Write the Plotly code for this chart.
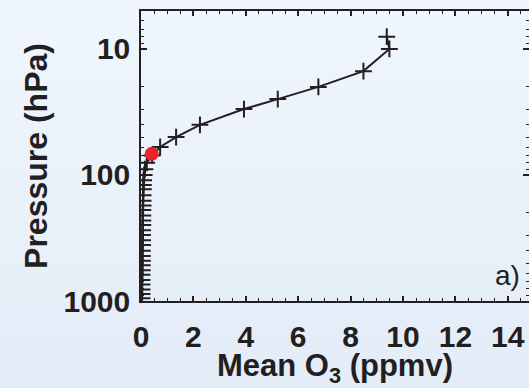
import base64
import plotly.graph_objects as go

# Data
pressure_hpa = [8, 10, 15, 20, 25, 30, 40, 50, 60, 70, 80, 90, 100, 110, 120, 130,
                145, 160, 175, 190, 210, 230, 250, 275, 300, 330, 360, 400, 440,
                480, 520, 570, 620, 680, 740, 810, 880, 950]
mean_o3_ppmv = [9.38, 9.48, 8.49, 6.77, 5.22, 3.93, 2.25, 1.34, 0.73, 0.42, 0.22, 0.15,
                0.12, 0.10, 0.09, 0.09, 0.08, 0.08, 0.08, 0.07, 0.07, 0.07, 0.07, 0.06,
                0.06, 0.06, 0.06, 0.05, 0.05, 0.05, 0.05, 0.05, 0.04, 0.04, 0.04, 0.04,
                0.04, 0.04]
tropopause_p = [68]
tropopause_o3 = [0.41]

x_ticks = [0, 2, 4, 6, 8, 10, 12, 14]
y_ticks = [10, 100, 1000]
y_tick_labels = ["10", "100", "1000"]
y_minor = [5, 6, 7, 8, 9, 20, 30, 40, 50, 60, 70, 80, 90,
           200, 300, 400, 500, 600, 700, 800, 900]

W, H = 529, 388
L, T, B, R = 141, 11, 87, 0
ink = "#231f20"
font_family = "Liberation Sans, Arial, Helvetica, sans-serif"

svg = ('<svg xmlns="http://www.w3.org/2000/svg" width="10" height="100" viewBox="0 0 10 100" '
       'preserveAspectRatio="none"><defs><linearGradient id="g" x1="0" y1="0" x2="0" y2="1">'
       '<stop offset="0" stop-color="#f0f6fd"/><stop offset="1" stop-color="#e3ecf7"/>'
       '</linearGradient></defs><rect width="10" height="100" fill="url(#g)"/></svg>')
bg_src = "data:image/svg+xml;base64," + base64.b64encode(svg.encode()).decode()

pw = W - L - R
ph = H - T - B

fig = go.Figure()
fig.add_trace(go.Scatter(
    x=mean_o3_ppmv, y=pressure_hpa, mode="lines+markers",
    line=dict(color=ink, width=2),
    marker=dict(symbol="cross-thin", size=12, line=dict(color=ink, width=2)),
    showlegend=False, hoverinfo="skip",
))
fig.add_trace(go.Scatter(
    x=tropopause_o3, y=tropopause_p, mode="markers",
    marker=dict(symbol="circle", size=14, color="#e8232a", line=dict(width=0)),
    showlegend=False, hoverinfo="skip",
))

fig.update_layout(
    width=W, height=H,
    margin=dict(l=L, r=R, t=T, b=B, pad=0, autoexpand=False),
    paper_bgcolor="#eaf1fa",
    plot_bgcolor="rgba(0,0,0,0)",
    font=dict(family=font_family, color=ink),
    images=[dict(source=bg_src, xref="paper", yref="paper",
                 x=-L / pw, y=1 + T / ph, sizex=W / pw, sizey=H / ph,
                 xanchor="left", yanchor="top", sizing="stretch", layer="below")],
    annotations=[dict(text="a)", xref="paper", yref="paper",
                      x=(522 - L) / pw, y=(H - B - 275) / ph,
                      xanchor="right", yanchor="middle", showarrow=False,
                      font=dict(size=28, color=ink, family=font_family))],
)

fig.update_xaxes(
    range=[0, (W - L) / 26.2],
    tickmode="array", tickvals=x_ticks,
    ticks="inside", ticklen=5, tickwidth=1.5, tickcolor=ink,
    minor=dict(dtick=0.5, ticks="inside", ticklen=3, tickwidth=1.2, tickcolor=ink),
    showline=True, linecolor=ink, linewidth=1.5, mirror="allticks",
    showgrid=False, zeroline=False, automargin=False,
    tickfont=dict(size=30, weight="bold", family=font_family, color=ink),
    ticklabelstandoff=8,
    title=dict(text="Mean O<sub>3</sub> (ppmv)", standoff=2,
               font=dict(size=31, weight="bold", family=font_family, color=ink)),
)
fig.update_yaxes(
    type="log", range=[3, 0.699], autorange=False,
    tickmode="array", tickvals=y_ticks, ticktext=y_tick_labels,
    ticks="inside", ticklen=6, tickwidth=1.5, tickcolor=ink,
    minor=dict(tickmode="array", tickvals=y_minor, ticks="inside", ticklen=3,
               tickwidth=1.2, tickcolor=ink),
    showline=True, linecolor=ink, linewidth=1.5, mirror="allticks",
    showgrid=False, zeroline=False, automargin=False,
    tickfont=dict(size=30, weight="bold", family=font_family, color=ink),
    ticklabelstandoff=3,
    title=dict(text="Pressure (hPa)", standoff=6,
               font=dict(size=32, weight="bold", family=font_family, color=ink)),
)

fig.write_html(
    "out.html",
    config={"displayModeBar": False},
    post_script="document.body.style.margin='0';document.body.style.overflow='hidden';"
                "document.body.style.background='#eaf1fa';",
)
